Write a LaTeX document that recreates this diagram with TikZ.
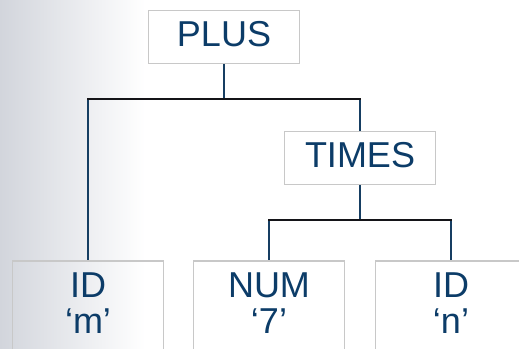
\documentclass[tikz,border=0pt]{standalone}
\usepackage{fontspec}
\setmainfont{Liberation Sans}
\begin{document}
\begin{tikzpicture}[x=1pt,y=-1pt,
  inkblue/.style={text=treetext},
  treebox/.style={draw=boxgray, line width=1.6pt, fill=none, minimum width=151pt,
    inner sep=0pt, font=\fontsize{36}{36}\selectfont, text=treetext},
  inner/.style={treebox, minimum height=53pt, text height=25pt, text depth=7pt},
  leaf/.style={treebox, minimum height=110pt, anchor=north},
  leaftext/.style={font=\fontsize{36}{36}\selectfont, text=treetext, anchor=base, inner sep=0pt},
  stem/.style={draw=stemblue, line width=1.8pt},
  bar/.style={draw=barblack, line width=1.8pt, line cap=rect}]
\definecolor{treetext}{RGB}{12,60,104}
\definecolor{boxgray}{RGB}{200,200,200}
\definecolor{stemblue}{RGB}{22,62,98}
\definecolor{barblack}{RGB}{20,20,24}
\definecolor{shadegray}{RGB}{210,213,220}

% canvas and soft grey fade on the left
\path[use as bounding box] (0,0) rectangle (519,348);
\clip (0,0) rectangle (519,348);
\fill[white] (0,0) rectangle (519,348);
\shade[left color=shadegray, right color=white] (0,0) rectangle (145,348);

% inner nodes
\node[inner] (plus)  at (224,37)  {PLUS};
\node[inner] (times) at (360,158) {TIMES};

% leaves (boxes run past the lower edge)
\node[leaf] (idm) at (88,260)  {};
\node[leaf] (num) at (269,260) {};
\node[leaf] (idn) at (451,260) {};

\node[leaftext] (idmA) at (88,297)  {ID};
\node[leaftext] (idmB) at (88,333)  {‘m’};
\node[leaftext] (numA) at (269,297) {NUM};
\node[leaftext] (numB) at (269,333) {‘7’};
\node[leaftext] (idnA) at (451,297) {ID};
\node[leaftext] (idnB) at (451,333) {‘n’};

% connectors
\coordinate (barA) at (0,99);
\coordinate (barB) at (0,220);
\draw[stem] (plus.south) -- (plus.south |- barA);
\draw[stem] (idm.north |- barA) -- (idm.north);
\draw[stem] (times.north |- barA) -- (times.north);
\draw[bar] (idm.north |- barA) -- (times.north |- barA);

\draw[stem] (times.south) -- (times.south |- barB);
\draw[stem] (num.north |- barB) -- (num.north);
\draw[stem] (idn.north |- barB) -- (idn.north);
\draw[bar] (num.north |- barB) -- (idn.north |- barB);
\end{tikzpicture}
\end{document}
